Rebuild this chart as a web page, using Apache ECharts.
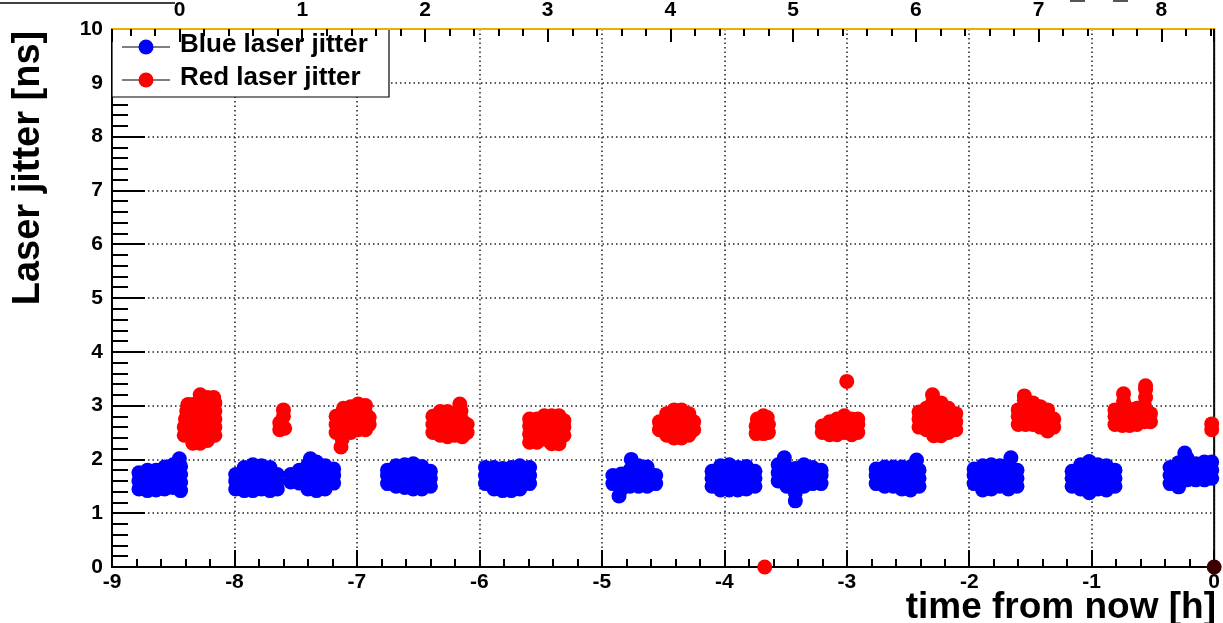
<!DOCTYPE html>
<html>
<head>
<meta charset="utf-8">
<script src="https://cdn.jsdelivr.net/npm/echarts@6/dist/echarts.min.js"></script>
<style>
html,body{margin:0;padding:0;background:#fff;}
#chart{width:1223px;height:623px;}
</style>
</head>
<body>
<div id="chart"></div>
<script>
// ---- data (time from now [h], laser jitter [ns]) ----
const seriesNames = ['Blue laser jitter', 'Red laser jitter'];
const seriesColors = ['#0000ff', '#ff0000'];
const xAxisTitle = 'time from now [h]';
const yAxisTitle = 'Laser jitter [ns]';

const blueJitter = [
  // run around -8.6 h
  [-8.78,1.45],[-8.78,1.6],[-8.78,1.75],
  [-8.71,1.42],[-8.71,1.57],[-8.71,1.72],[-8.71,1.8],
  [-8.64,1.43],[-8.64,1.58],[-8.64,1.73],[-8.64,1.8],
  [-8.57,1.45],[-8.57,1.6],[-8.57,1.75],[-8.57,1.86],
  [-8.5,1.48],[-8.5,1.63],[-8.5,1.78],[-8.5,1.9],
  [-8.44,1.42],[-8.44,1.57],[-8.44,1.72],[-8.44,1.87],[-8.45,2.01],
  // run around -7.8 h
  [-7.99,1.45],[-7.99,1.6],[-7.99,1.72],
  [-7.92,1.42],[-7.92,1.57],[-7.92,1.72],[-7.92,1.85],
  [-7.85,1.42],[-7.85,1.57],[-7.85,1.72],[-7.85,1.9],
  [-7.78,1.45],[-7.78,1.6],[-7.78,1.75],[-7.78,1.88],
  [-7.71,1.42],[-7.71,1.57],[-7.71,1.72],[-7.71,1.85],
  [-7.65,1.45],[-7.65,1.6],[-7.65,1.72],
  // run around -7.4 h
  [-7.54,1.58],[-7.54,1.72],
  [-7.47,1.56],[-7.47,1.7],[-7.47,1.8],
  [-7.4,1.45],[-7.4,1.6],[-7.4,1.75],[-7.4,1.9],[-7.38,2.01],
  [-7.33,1.42],[-7.33,1.57],[-7.33,1.72],[-7.33,1.87],[-7.33,1.95],
  [-7.26,1.45],[-7.26,1.6],[-7.26,1.75],[-7.26,1.88],
  [-7.19,1.56],[-7.19,1.7],[-7.19,1.82],
  // run around -6.6 h
  [-6.75,1.55],[-6.75,1.7],[-6.75,1.8],
  [-6.68,1.5],[-6.68,1.65],[-6.68,1.8],[-6.68,1.88],
  [-6.61,1.48],[-6.61,1.63],[-6.61,1.78],[-6.61,1.9],
  [-6.54,1.45],[-6.54,1.6],[-6.54,1.75],[-6.54,1.92],
  [-6.47,1.45],[-6.47,1.6],[-6.47,1.75],[-6.47,1.87],
  [-6.4,1.5],[-6.4,1.65],[-6.4,1.78],
  // run around -5.8 h
  [-5.95,1.55],[-5.95,1.7],[-5.95,1.85],
  [-5.88,1.45],[-5.88,1.6],[-5.88,1.75],[-5.88,1.85],
  [-5.81,1.42],[-5.81,1.57],[-5.81,1.72],[-5.81,1.83],
  [-5.74,1.42],[-5.74,1.57],[-5.74,1.72],[-5.74,1.85],
  [-5.67,1.45],[-5.67,1.6],[-5.67,1.75],[-5.67,1.88],
  [-5.59,1.55],[-5.59,1.7],[-5.59,1.85],
  // run around -4.7 h
  [-4.91,1.55],[-4.91,1.7],
  [-4.86,1.32],[-4.84,1.45],[-4.84,1.6],[-4.84,1.73],
  [-4.77,1.5],[-4.77,1.65],[-4.77,1.8],[-4.76,2.0],
  [-4.7,1.5],[-4.7,1.65],[-4.7,1.8],[-4.7,1.88],
  [-4.63,1.5],[-4.63,1.65],[-4.63,1.8],[-4.63,1.86],
  [-4.56,1.55],[-4.56,1.7],
  // run around -3.9 h
  [-4.1,1.5],[-4.1,1.65],[-4.1,1.78],
  [-4.03,1.43],[-4.03,1.58],[-4.03,1.73],[-4.03,1.88],
  [-3.96,1.43],[-3.96,1.58],[-3.96,1.73],[-3.96,1.9],
  [-3.89,1.43],[-3.89,1.58],[-3.89,1.73],[-3.89,1.85],
  [-3.82,1.45],[-3.82,1.6],[-3.82,1.75],[-3.82,1.87],
  [-3.75,1.5],[-3.75,1.65],[-3.75,1.78],
  // run around -3.4 h
  [-3.56,1.6],[-3.56,1.75],[-3.56,1.9],
  [-3.51,2.03],[-3.5,1.88],[-3.49,1.5],[-3.49,1.65],[-3.49,1.8],
  [-3.42,1.23],[-3.42,1.38],[-3.42,1.53],[-3.42,1.68],[-3.42,1.83],
  [-3.35,1.5],[-3.35,1.65],[-3.35,1.8],[-3.35,1.9],
  [-3.28,1.55],[-3.28,1.7],[-3.28,1.85],
  [-3.21,1.55],[-3.21,1.7],[-3.21,1.8],
  // run around -2.6 h
  [-2.76,1.55],[-2.76,1.7],[-2.76,1.82],
  [-2.69,1.5],[-2.69,1.65],[-2.69,1.8],[-2.69,1.86],
  [-2.62,1.5],[-2.62,1.65],[-2.62,1.8],[-2.62,1.86],
  [-2.55,1.45],[-2.55,1.6],[-2.55,1.75],[-2.55,1.86],
  [-2.48,1.43],[-2.48,1.58],[-2.48,1.73],[-2.48,1.86],
  [-2.43,1.99],[-2.41,1.5],[-2.41,1.65],[-2.41,1.8],
  // run around -1.8 h
  [-1.96,1.55],[-1.96,1.7],[-1.96,1.82],
  [-1.89,1.43],[-1.89,1.58],[-1.89,1.73],[-1.89,1.88],
  [-1.82,1.45],[-1.82,1.6],[-1.82,1.75],[-1.82,1.9],
  [-1.75,1.5],[-1.75,1.65],[-1.75,1.8],[-1.75,1.88],
  [-1.68,1.45],[-1.68,1.6],[-1.68,1.75],[-1.68,1.9],[-1.66,2.03],
  [-1.61,1.5],[-1.61,1.65],[-1.61,1.8],
  // run around -1.0 h
  [-1.16,1.5],[-1.16,1.65],[-1.16,1.78],
  [-1.09,1.45],[-1.09,1.6],[-1.09,1.75],[-1.09,1.9],
  [-1.02,1.38],[-1.02,1.53],[-1.02,1.68],[-1.02,1.83],[-1.02,1.96],
  [-0.95,1.45],[-0.95,1.6],[-0.95,1.75],[-0.95,1.9],
  [-0.88,1.43],[-0.88,1.58],[-0.88,1.73],[-0.88,1.88],
  [-0.81,1.5],[-0.81,1.65],[-0.81,1.8],
  // run around -0.2 h
  [-0.36,1.55],[-0.36,1.7],[-0.36,1.85],
  [-0.29,1.49],[-0.29,1.64],[-0.29,1.79],[-0.29,1.94],
  [-0.24,2.12],[-0.22,1.62],[-0.22,1.77],[-0.22,1.92],[-0.22,2.02],
  [-0.15,1.62],[-0.15,1.77],[-0.15,1.92],
  [-0.08,1.62],[-0.08,1.77],[-0.08,1.95],
  [-0.02,1.65],[-0.02,1.8],[-0.02,1.95]
];

const redJitter = [
  // run around -8.3 h
  [-8.41,2.45],[-8.41,2.6],[-8.4,2.75],[-8.39,2.9],[-8.38,3.02],
  [-8.34,2.3],[-8.34,2.45],[-8.34,2.6],[-8.34,2.75],[-8.34,2.9],[-8.34,3.02],
  [-8.28,2.3],[-8.28,2.45],[-8.28,2.6],[-8.28,2.75],[-8.28,2.9],[-8.28,3.05],[-8.28,3.2],
  [-8.22,2.35],[-8.22,2.5],[-8.22,2.65],[-8.22,2.8],[-8.22,2.95],[-8.22,3.1],[-8.22,3.15],
  [-8.16,2.45],[-8.16,2.6],[-8.16,2.75],[-8.16,2.9],[-8.16,3.05],[-8.17,3.15],
  // short run around -7.6 h
  [-7.63,2.55],[-7.63,2.68],[-7.59,2.58],[-7.6,2.8],[-7.6,2.92],
  // run around -7.0 h
  [-7.17,2.5],[-7.17,2.65],[-7.17,2.8],
  [-7.13,2.23],[-7.12,2.38],[-7.11,2.5],[-7.11,2.65],[-7.11,2.8],[-7.11,2.95],
  [-7.05,2.5],[-7.05,2.65],[-7.05,2.8],[-7.05,2.98],
  [-6.99,2.55],[-6.99,2.7],[-6.99,2.85],[-6.99,3.03],
  [-6.93,2.55],[-6.93,2.7],[-6.93,2.85],[-6.93,3.0],
  [-6.9,2.65],[-6.9,2.78],
  // run around -6.25 h
  [-6.38,2.5],[-6.38,2.65],[-6.38,2.8],
  [-6.32,2.45],[-6.32,2.6],[-6.32,2.75],[-6.32,2.89],
  [-6.26,2.42],[-6.26,2.57],[-6.26,2.72],[-6.26,2.89],
  [-6.2,2.45],[-6.2,2.6],[-6.2,2.75],[-6.2,2.85],
  [-6.16,3.03],[-6.15,2.9],
  [-6.14,2.42],[-6.14,2.57],[-6.14,2.72],
  [-6.1,2.5],[-6.1,2.65],
  // run around -5.45 h
  [-5.59,2.32],[-5.59,2.47],[-5.59,2.62],[-5.59,2.75],
  [-5.53,2.32],[-5.53,2.47],[-5.53,2.62],[-5.53,2.75],
  [-5.47,2.38],[-5.47,2.53],[-5.47,2.68],[-5.47,2.81],
  [-5.41,2.29],[-5.41,2.44],[-5.41,2.6],[-5.41,2.75],[-5.41,2.81],
  [-5.35,2.29],[-5.35,2.44],[-5.35,2.6],[-5.35,2.75],[-5.35,2.81],
  [-5.31,2.45],[-5.31,2.6],[-5.31,2.72],
  // run around -4.4 h
  [-4.53,2.55],[-4.53,2.7],
  [-4.47,2.45],[-4.47,2.6],[-4.47,2.75],[-4.47,2.85],
  [-4.41,2.4],[-4.41,2.55],[-4.41,2.7],[-4.41,2.85],[-4.41,2.92],
  [-4.35,2.4],[-4.35,2.55],[-4.35,2.7],[-4.35,2.85],[-4.35,2.92],
  [-4.29,2.45],[-4.29,2.6],[-4.29,2.75],[-4.29,2.85],
  [-4.25,2.55],[-4.25,2.7],
  // short run around -3.7 h (+ one zero reading)
  [-3.74,2.48],[-3.74,2.62],[-3.73,2.75],[-3.68,2.48],[-3.68,2.62],[-3.68,2.81],
  [-3.64,2.5],[-3.64,2.65],[-3.65,2.78],
  [-3.67,0.0],
  // run around -3.05 h (+ one high reading)
  [-3.2,2.5],[-3.2,2.62],
  [-3.14,2.46],[-3.14,2.6],[-3.14,2.7],
  [-3.08,2.46],[-3.08,2.6],[-3.08,2.75],
  [-3.02,2.5],[-3.02,2.65],[-3.02,2.81],
  [-2.96,2.46],[-2.96,2.6],[-2.96,2.75],
  [-2.91,2.5],[-2.91,2.65],[-2.91,2.75],
  [-3.0,3.45],
  // run around -2.25 h
  [-2.41,2.6],[-2.41,2.75],[-2.41,2.88],
  [-2.35,2.55],[-2.35,2.7],[-2.35,2.85],[-2.35,2.95],
  [-2.29,2.44],[-2.29,2.6],[-2.29,2.75],[-2.29,2.9],[-2.3,3.05],[-2.3,3.2],
  [-2.23,2.44],[-2.23,2.6],[-2.23,2.75],[-2.23,2.9],[-2.23,3.05],
  [-2.17,2.5],[-2.17,2.65],[-2.17,2.8],[-2.17,2.95],
  [-2.11,2.55],[-2.11,2.7],[-2.11,2.85],
  // run around -1.45 h
  [-1.6,2.65],[-1.6,2.8],[-1.6,2.92],
  [-1.54,2.65],[-1.54,2.8],[-1.54,2.95],[-1.55,3.1],[-1.55,3.18],
  [-1.48,2.65],[-1.48,2.8],[-1.48,2.95],[-1.48,3.05],
  [-1.42,2.6],[-1.42,2.75],[-1.42,2.9],[-1.42,2.98],
  [-1.36,2.53],[-1.36,2.68],[-1.36,2.83],[-1.36,2.92],
  [-1.31,2.6],[-1.31,2.75],
  // run around -0.65 h
  [-0.81,2.65],[-0.81,2.8],[-0.81,2.92],
  [-0.75,2.63],[-0.75,2.78],[-0.75,2.93],[-0.74,3.08],[-0.74,3.22],
  [-0.69,2.63],[-0.69,2.78],[-0.69,2.93],
  [-0.63,2.65],[-0.63,2.8],[-0.63,2.95],
  [-0.57,2.7],[-0.57,2.85],[-0.57,3.0],[-0.56,3.15],[-0.56,3.3],[-0.56,3.37],
  [-0.52,2.7],[-0.52,2.85],
  // latest readings
  [-0.02,2.55],[-0.02,2.66]
];

const nowMarker = [[0, 0]];

// ---- chart ----
const FONT = "'Liberation Sans', Arial, Helvetica, sans-serif";
const chart = echarts.init(document.getElementById('chart'), null, {renderer: 'canvas'});

const gridLineStyle = {color: '#222', width: 1.5, type: [1.5, 3]};
const TOPZ = 100;

function legendItem(i, cy, ty) {
  return [
    {type: 'line', z: TOPZ + 1, shape: {x1: 122, y1: cy, x2: 170, y2: cy}, style: {stroke: '#000', lineWidth: 1.2}},
    {type: 'circle', z: TOPZ + 2, shape: {cx: 146, cy: cy, r: 7.5}, style: {fill: seriesColors[i]}},
    {type: 'text', z: TOPZ + 2, x: 180, y: ty, style: {text: seriesNames[i], font: 'bold 26px ' + FONT, fill: '#000', verticalAlign: 'middle', align: 'left'}}
  ];
}

const option = {
  backgroundColor: '#fff',
  animation: false,
  grid: {left: 112, right: 3, top: 29, bottom: 56, show: true, borderColor: '#000', borderWidth: 2, backgroundColor: 'transparent'},
  xAxis: [
    {
      type: 'value', position: 'bottom', min: -9, max: 0, interval: 1,
      axisLine: {show: true, onZero: false, lineStyle: {color: '#000', width: 2}},
      axisTick: {show: true, inside: true, length: 17, lineStyle: {color: '#000', width: 2}},
      minorTick: {show: true, splitNumber: 5, length: 8, lineStyle: {color: '#000', width: 2}},
      axisLabel: {color: '#000', fontSize: 21, fontWeight: 'bold', fontFamily: FONT, margin: 5},
      splitLine: {show: true, lineStyle: gridLineStyle}
    },
    {
      type: 'value', position: 'top', min: -0.55, max: 8.43, splitNumber: 9, z: 200,
      axisLine: {show: true, onZero: false, lineStyle: {color: '#e8b000', width: 2}},
      axisTick: {show: true, inside: true, length: 13, lineStyle: {color: '#000', width: 2}},
      minorTick: {show: true, splitNumber: 5, length: 7, lineStyle: {color: '#000', width: 2}},
      axisLabel: {color: '#000', fontSize: 21, fontWeight: 'bold', fontFamily: FONT, margin: 8, showMinLabel: false, showMaxLabel: false},
      splitLine: {show: false}
    }
  ],
  yAxis: {
    type: 'value', min: 0, max: 10, interval: 1,
    axisLine: {show: true, onZero: false, lineStyle: {color: '#000', width: 2}},
    axisTick: {show: true, inside: true, length: 33, lineStyle: {color: '#000', width: 2}},
    minorTick: {show: true, splitNumber: 5, length: 16, lineStyle: {color: '#000', width: 2}},
    axisLabel: {color: '#000', fontSize: 21, fontWeight: 'bold', fontFamily: FONT, margin: 9},
    splitLine: {show: true, lineStyle: gridLineStyle}
  },
  series: [
    {name: seriesNames[0], type: 'scatter', xAxisIndex: 0, data: blueJitter, symbol: 'circle', symbolSize: 15,
     itemStyle: {color: seriesColors[0], opacity: 1}, clip: false},
    {name: seriesNames[1], type: 'scatter', xAxisIndex: 0, data: redJitter, symbol: 'circle', symbolSize: 15,
     itemStyle: {color: seriesColors[1], opacity: 1}, clip: false},
    {name: 'now', type: 'scatter', xAxisIndex: 0, data: nowMarker, symbol: 'circle', symbolSize: 15,
     itemStyle: {color: '#3a0000', opacity: 1}, clip: false, z: 5}
  ],
  graphic: [
    // legend box
    {type: 'rect', z: TOPZ, shape: {x: 112, y: 29, width: 277, height: 68}, style: {fill: '#fff', stroke: '#000', lineWidth: 1.2}},
    ...legendItem(0, 47, 45),
    ...legendItem(1, 80, 78),
    // axis titles
    {type: 'text', z: TOPZ, x: 29, y: 168, rotation: Math.PI / 2,
     style: {text: yAxisTitle, font: 'bold 38px ' + FONT, fill: '#000', align: 'center', verticalAlign: 'middle'}},
    {type: 'text', z: TOPZ, x: 1216, y: 608,
     style: {text: xAxisTitle, font: 'bold 37px ' + FONT, fill: '#000', align: 'right', verticalAlign: 'middle'}},
    // pad decorations at the top
    {type: 'line', z: TOPZ, shape: {x1: 0, y1: 3, x2: 175, y2: 3}, style: {stroke: '#000', lineWidth: 1.5}},
    {type: 'line', z: TOPZ, shape: {x1: 1070, y1: 1, x2: 1085, y2: 1}, style: {stroke: '#555', lineWidth: 2}},
    {type: 'line', z: TOPZ, shape: {x1: 1113, y1: 1, x2: 1128, y2: 1}, style: {stroke: '#555', lineWidth: 2}}
  ]
};
chart.setOption(option);
</script>
</body>
</html>
